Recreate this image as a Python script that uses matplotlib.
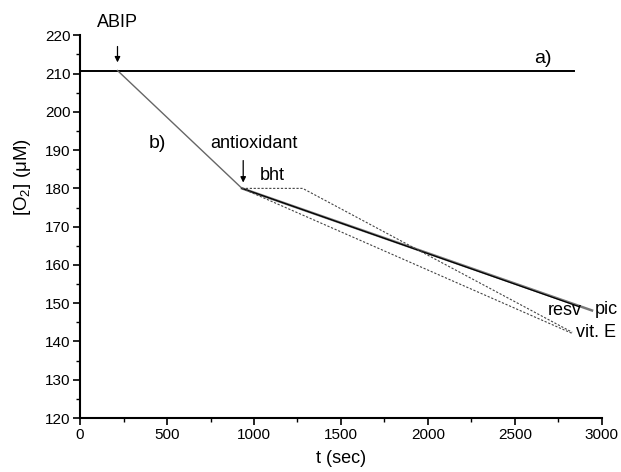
import matplotlib
matplotlib.use("Agg")
import matplotlib.pyplot as plt
from matplotlib.ticker import MultipleLocator

plt.rcParams['font.family'] = ['Liberation Sans', 'DejaVu Sans']
plt.rcParams['mathtext.fontset'] = 'custom'
plt.rcParams['mathtext.rm'] = 'Liberation Sans'

# curve a) control, no initiator
a_t = [0, 2840]
a_o2 = [210.8, 210.8]

# curve b) after ABIP addition
b_t = [215, 931]
b_o2 = [210.8, 180.0]

# after antioxidant addition
pic_t = [931, 2944]
pic_o2 = [180.0, 148.1]
resv_t = [931, 2870]
resv_o2 = [180.0, 149.1]
vite_t = [931, 2835]
vite_o2 = [180.0, 142.0]
bht_t = [931, 1280, 2830]
bht_o2 = [180.0, 180.0, 142.4]

fig = plt.figure(figsize=(6.21, 4.72), dpi=100)
ax = fig.add_axes([0.129, 0.1144, 0.840, 0.8108])

ax.plot(a_t, a_o2, color="black", lw=1.4)
ax.plot(b_t, b_o2, color="#666666", lw=1.0)
ax.plot(pic_t, pic_o2, color="#777777", lw=1.8)
ax.plot(resv_t, resv_o2, color="black", lw=0.9)
ax.plot(vite_t, vite_o2, color="#444444", lw=0.8, ls=(0, (2, 1.5)))
ax.plot(bht_t, bht_o2, color="#444444", lw=0.8, ls=(0, (2, 1.5)))

ax.set_xlim(0, 3000)
ax.set_ylim(120, 220)
ax.xaxis.set_major_locator(MultipleLocator(500))
ax.xaxis.set_minor_locator(MultipleLocator(250))
ax.yaxis.set_major_locator(MultipleLocator(10))
ax.yaxis.set_minor_locator(MultipleLocator(5))
ax.tick_params(which="major", direction="out", length=5, width=1.2, labelsize=11, pad=2)
ax.tick_params(which="minor", direction="out", length=3, width=1.0)
for s in ["top", "right"]:
    ax.spines[s].set_visible(False)
for s in ["left", "bottom"]:
    ax.spines[s].set_linewidth(1.5)

ax.set_xlabel("t (sec)", fontsize=13, labelpad=6)
ax.set_ylabel("[O$_2$] (μM)", fontsize=13.5)
ax.yaxis.set_label_coords(-0.09, 0.63)

arrow = dict(arrowstyle="-|>", color="black", lw=0.9, mutation_scale=8)
ax.text(215, 222.2, "ABIP", ha="center", va="baseline", fontsize=13, clip_on=False)
ax.annotate("", xy=(215, 212.2), xytext=(215, 217.8), arrowprops=arrow, annotation_clip=False)
ax.annotate("", xy=(938, 180.8), xytext=(938, 188.0), arrowprops=arrow)
ax.text(1000, 190.6, "antioxidant", ha="center", va="baseline", fontsize=13)
ax.text(443, 190.6, "b)", ha="center", va="baseline", fontsize=14)
ax.text(1105, 182.2, "bht", ha="center", va="baseline", fontsize=13)
ax.text(2662, 212.8, "a)", ha="center", va="baseline", fontsize=14)
ax.text(2790, 146.9, "resv", ha="center", va="baseline", fontsize=13)
ax.text(3025, 147.3, "pic", ha="center", va="baseline", fontsize=13)
ax.text(2967, 141.2, "vit. E", ha="center", va="baseline", fontsize=13)

fig.savefig("out.png", dpi=100)
